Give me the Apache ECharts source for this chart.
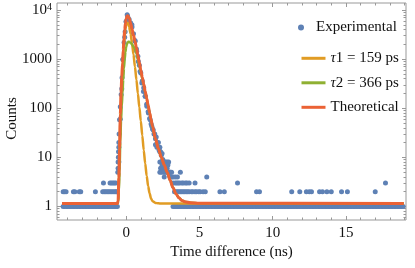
<!DOCTYPE html>
<html><head><meta charset="utf-8">
<script src="https://cdn.jsdelivr.net/npm/echarts@6/dist/echarts.min.js"></script>
<style>html,body{margin:0;padding:0;background:#fff}#c{width:415px;height:268px}</style>
</head><body><div id="c"></div>
<script>
// ---- data ----
const xTicks = [0, 5, 10, 15];
const yTickLabels = [1, 10, 100, 1000, 10000];
const yMinorTicks = [0.6,0.7,0.8,0.9,2,3,4,5,6,7,8,9,20,30,40,50,60,70,80,90,200,300,400,500,600,700,800,900,2000,3000,4000,5000,6000,7000,8000,9000];

// histogram counts, one per 0.1 ns bin starting at -4.3 ns
const binStart = -4.3, binWidth = 0.1;
const counts = [
  1,1,1,1,1,1,1,1,1,1,
  1,1,1,1,1,1,1,1,1,1,
  1,1,1,1,1,1,1,1,1,1,
  1,1,1,1,1,1,1,1,
  8,60,250,1000,2800,5800,7500,6500,5500,4500,
  3300,2400,1600,1150,750,520,360,260,175,120,
  85,62,48,38,30,24,19,16,13,11,
  9,8,7,6,5,5,4,
  1,1,1,1,1,1,1,1,1,1,
  1,1,1,1,1,1,1,1,1,1,
  1,1,1,1,1,1,1,1,1,1,
  1,1,1,1,1,1,1,1,1,1,
  1,1,1,1,1,1,1,1,1,1,
  1,1,1,1,1,1,1,1,1,1,
  1,1,1,1,1,1,1,1,1,1,
  1,1,1,1,1,1,1,1,1,1,
  1,1,1,1,1,1,1,1,1,1,
  1,1,1,1,1,1,1,1,1,1,
  1,1,1,1,1,1,1,1,1,1,
  1,1,1,1,1,1,1,1,1,1,
  1,1,1,1,1,1,1,1,1,1,
  1,1,1,1,1,1,1,1,1,1,
  1,1,1,1,1,1,1,1,1,1,
  1,1,1,1,1,1,1,1
];
// additional experimental points (finer structure / scattered counts)
const extraT = [
  -4.3,-4.2,-4.1,-3.6,-3.5,-3.2,-3.1,-2.1,
  -1.6,-1.5,-1.4,-1.3,-1.2,-1.1,-1.0,-0.9,-0.8,-0.7,-0.65,
  -1.55,-1.1,-1.0,-0.9,-0.8,-0.7,
  -0.57,-0.55,-0.55,-0.53,-0.52,-0.5,-0.5,-0.48,-0.45,-0.4,-0.34,-0.28,-0.23,-0.14,-0.07,0.0,0.07,
  0.39,0.61,0.72,0.83,0.95,1.07,1.18,1.3,1.41,1.52,1.64,1.75,1.85,1.95,2.05,
  2.0,2.1,2.2,2.25,2.3,2.35,2.45,
  2.3,2.4,2.5,2.6,2.7,2.8,2.9,
  2.35,2.45,2.55,2.65,2.75,2.85,
  2.3,2.4,2.55,2.65,2.75,2.85,3.0,3.1,3.7,
  2.6,3.0,3.2,3.35,3.5,5.5,
  3.2,3.35,3.45,3.55,3.65,3.8,3.9,4.05,4.15,4.3,4.7,7.6,
  3.3,3.4,3.5,3.6,3.7,3.8,3.9,4.0,4.1,4.2,4.3,4.45,4.55,4.7,4.8,4.95,5.05,5.25,5.4,
  6.4,6.7,8.9,9.1,11.3,11.85,12.3,12.5,12.65,13.2,13.4,13.7,14.0,14.7,15.1,17.0,17.7
];
const extraC = [
  2,2,2,2,2,2,2,2,
  2,2,2,2,2,2,2,2,2,2,2,
  3,3,3,3,3,3,
  5,6,8,10,13,16,20,30,58,107,190,420,980,2180,3630,5860,8000,
  5000,2300,1440,900,560,325,220,175,110,80,58,43,36,30,26,
  18,16,20,14,16,13,12,
  8,8,8,8,8,8,8,
  6,7,6,7,6,7,
  5,5,5,5,5,5,5,5,5,
  4,4,4,4,4,4,
  3,3,3,3,3,3,3,3,3,3,3,3,
  2,2,2,2,2,2,2,2,2,2,2,2,2,2,2,2,2,2,2,
  2,2,2,2,2,2,2,2,2,2,2,2,2,2,2,2,3
];

// fitted curves, sampled at curveT (ns)
const curveT = [-4.38,-0.6,-0.55,-0.5,-0.45,-0.4,-0.35,-0.3,-0.25,-0.2,
  -0.15,-0.1,-0.05,0,0.05,0.1,0.15,0.2,0.3,0.4,
  0.5,0.6,0.7,0.8,0.9,1.0,1.1,1.2,1.3,1.4,
  1.5,1.6,1.7,1.8,2.0,2.2,2.4,2.6,2.8,3.0,
  3.2,3.4,3.6,3.8,4.0,4.4,5.0,18.95];
const tau1C = [1.15,1.15,1.25,3,11,55,150,320,620,1150,
  2000,2950,4000,4900,5400,5500,5200,4600,3300,2100,
  1250,700,380,200,105,55,28,14,7.5,4.2,
  2.6,1.85,1.45,1.28,1.18,1.16,1.15,1.15,1.15,1.15,
  1.15,1.15,1.15,1.15,1.15,1.15,1.15,1.15];
const tau2C = [1.15,1.15,1.2,2,5,20,55,110,200,380,
  650,1000,1400,1750,2050,2150,2250,2250,2150,2000,
  1800,1650,1320,1000,745,545,400,296,215,156,
  113,80,58,42,23.5,15,10,7,5,3.4,
  2.4,1.8,1.5,1.33,1.25,1.19,1.16,1.15];
const theoC = [1.15,1.15,1.3,3.85,15,75,205,430,820,1530,
  2650,3950,5400,6650,7450,7650,7450,6850,5450,4100,
  3050,2350,1700,1200,850,600,428,310,222,160,
  115,82,59,43,24,15,10,7,5,3.4,
  2.4,1.8,1.5,1.33,1.25,1.19,1.16,1.15];

// ---- build ----
const expData = counts.map((c, i) => [Math.round((binStart + i * binWidth) * 100) / 100, c])
  .concat(extraT.map((t, i) => [t, extraC[i]]));
const pair = arr => curveT.map((t, i) => [t, arr[i]]);

const X_MIN = -4.72, X_MAX = 19.1;
const Y_MIN = 0.53, Y_MAX = 13900;
const FONT = 'Liberation Serif';
const FRAME = '#999';

function decoY(pos, vals, len) {
  return {
    type: 'value', position: pos, min: Math.log10(Y_MIN), max: Math.log10(Y_MAX),
    axisLine: {show: false, onZero: false}, splitLine: {show: false}, axisLabel: {show: false},
    axisTick: {show: true, inside: true, length: len, lineStyle: {color: FRAME}, customValues: vals.map(v => Math.log10(v))}
  };
}
function xAx(pos, labels) {
  return {
    type: 'value', position: pos, min: X_MIN, max: X_MAX,
    axisLine: {show: false, onZero: false}, splitLine: {show: false},
    axisTick: {show: true, inside: true, length: 4, lineStyle: {color: FRAME}, customValues: xTicks},
    minorTick: {show: true, splitNumber: 5, length: 2.5, lineStyle: {color: FRAME}},
    axisLabel: {show: labels, customValues: xTicks, margin: 6, fontFamily: FONT, fontSize: 15, color: '#111',
      formatter: v => (xTicks.includes(v) ? String(v) : '')},
    name: labels ? 'Time difference (ns)' : '', nameLocation: 'middle', nameGap: 25, nameMoveOverlap: false,
    nameTextStyle: {fontFamily: FONT, fontSize: 15, color: '#111'}
  };
}

const chart = echarts.init(document.getElementById('c'), null, {renderer: 'canvas'});
chart.setOption({
  animation: false,
  grid: {left: 57, right: 9, top: 3, bottom: 48, show: true, borderColor: FRAME, borderWidth: 1, outerBoundsMode: 'none', containLabel: false},
  xAxis: [xAx('bottom', true), xAx('top', false)],
  yAxis: [
    {
      type: 'log', logBase: 10, min: Y_MIN, max: Y_MAX, position: 'left',
      axisLine: {show: false, onZero: false}, axisTick: {show: false}, splitLine: {show: false},
      minorTick: {show: false},
      axisLabel: {margin: 5, fontFamily: FONT, fontSize: 15, color: '#111', showMinLabel: false, showMaxLabel: false,
        formatter: v => {
          const r = Math.round(v);
          if (Math.abs(v - r) > 1e-6 * Math.max(1, v)) return '';
          if (r === 10000) return '10{sup|4}';
          return yTickLabels.includes(r) ? String(r) : '';
        },
        rich: {sup: {fontSize: 10, verticalAlign: 'top', fontFamily: FONT, color: '#111'}}
      },
      name: 'Counts', nameLocation: 'middle', nameGap: 37, nameMoveOverlap: false,
      nameTextStyle: {fontFamily: FONT, fontSize: 15, color: '#111', padding: [0, 14, 0, 0]}
    },
    decoY('left', yTickLabels, 4),
    decoY('left', yMinorTicks, 2.5),
    decoY('right', yTickLabels, 4),
    decoY('right', yMinorTicks, 2.5)
  ],
  legend: [
    {
      data: ['Experimental'], orient: 'vertical', left: 293, top: 14.5,
      icon: 'circle', itemWidth: 20, itemHeight: 6, itemGap: 8,
      textStyle: {fontFamily: FONT, fontSize: 15, color: '#111', lineHeight: 16}
    },
    {
      data: ['τ1 = 159 ps', 'τ2 = 366 ps', 'Theoretical'], orient: 'vertical', left: 296.5, top: 45.3,
      icon: 'rect', itemWidth: 24, itemHeight: 3, itemGap: 8.5,
      formatter: n => n.replace('τ', '{i|τ}'),
      textStyle: {fontFamily: FONT, fontSize: 15, color: '#111', lineHeight: 16,
        rich: {i: {fontStyle: 'italic', fontFamily: FONT, fontSize: 15, color: '#111'}}}
    }
  ],
  series: [
    {name: 'Experimental', type: 'scatter', xAxisIndex: 0, yAxisIndex: 0, symbolSize: 5,
      itemStyle: {color: '#5E81B5', opacity: 1}, data: expData, z: 2},
    {name: 'τ1 = 159 ps', type: 'line', xAxisIndex: 0, yAxisIndex: 0, showSymbol: false, symbol: 'none',
      smooth: 0.3, smoothMonotone: 'x', lineStyle: {color: '#E19C24', width: 2.5}, itemStyle: {color: '#E19C24'}, data: pair(tau1C), z: 3},
    {name: 'τ2 = 366 ps', type: 'line', xAxisIndex: 0, yAxisIndex: 0, showSymbol: false, symbol: 'none',
      smooth: 0.3, smoothMonotone: 'x', lineStyle: {color: '#8FB032', width: 2.5}, itemStyle: {color: '#8FB032'}, data: pair(tau2C), z: 4},
    {name: 'Theoretical', type: 'line', xAxisIndex: 0, yAxisIndex: 0, showSymbol: false, symbol: 'none',
      smooth: 0.3, smoothMonotone: 'x', lineStyle: {color: '#EB6235', width: 3}, itemStyle: {color: '#EB6235'}, data: pair(theoC), z: 5}
  ]
});
</script></body></html>
